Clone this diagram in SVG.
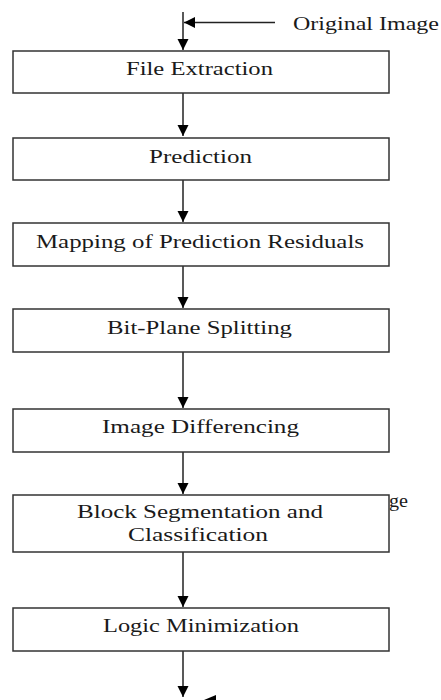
<svg xmlns="http://www.w3.org/2000/svg" width="441" height="700" viewBox="0 0 441 700">
<style>
.box{fill:#fff;stroke:#333;stroke-width:1.5}
.lbl{font-family:"Liberation Serif","Times New Roman",serif;font-size:18px;fill:#1a1a1a;text-anchor:middle}
.note{font-family:"Liberation Serif","Times New Roman",serif;font-size:19px;fill:#1a1a1a}
.conn{stroke:#222;stroke-width:1.5;fill:none;marker-end:url(#ah)}
</style>
<defs>
<marker id="ah" markerWidth="12" markerHeight="12" refX="11" refY="6" orient="auto" markerUnits="userSpaceOnUse">
<path d="M0,0.5 L11,6 L0,11.5 Z" fill="#000"/>
</marker>
</defs>
<rect width="441" height="700" fill="#fff"/>
<text class="note" x="389" y="507" textLength="19" lengthAdjust="spacingAndGlyphs">ge</text>
<g id="connectors">
<line class="conn" x1="183" y1="12" x2="183" y2="50"/>
<line class="conn" x1="275" y1="22.5" x2="184" y2="22.5"/>
<line class="conn" x1="183" y1="93" x2="183" y2="136"/>
<line class="conn" x1="183" y1="180" x2="183" y2="222"/>
<line class="conn" x1="183" y1="266" x2="183" y2="308"/>
<line class="conn" x1="183" y1="352" x2="183" y2="408"/>
<line class="conn" x1="183" y1="452" x2="183" y2="494"/>
<line class="conn" x1="183" y1="552" x2="183" y2="607"/>
<line class="conn" x1="183" y1="651" x2="183" y2="697"/>
<polygon points="204,700 216,695 216,700" fill="#000"/>
</g>
<g id="original-image-label">
<text class="note" x="293" y="30" textLength="146" lengthAdjust="spacingAndGlyphs">Original Image</text>
</g>
<g id="file-extraction">
<rect class="box" x="13" y="51" width="376" height="42"/>
<text class="lbl" x="199.5" y="75" textLength="147" lengthAdjust="spacingAndGlyphs">File Extraction</text>
</g>
<g id="prediction">
<rect class="box" x="13" y="138" width="376" height="42"/>
<text class="lbl" x="200.5" y="163" textLength="103" lengthAdjust="spacingAndGlyphs">Prediction</text>
</g>
<g id="mapping">
<rect class="box" x="13" y="223" width="376" height="43"/>
<text class="lbl" x="200" y="248" textLength="328" lengthAdjust="spacingAndGlyphs">Mapping of Prediction Residuals</text>
</g>
<g id="bit-plane">
<rect class="box" x="13" y="309" width="376" height="43"/>
<text class="lbl" x="199.5" y="334" textLength="185" lengthAdjust="spacingAndGlyphs">Bit-Plane Splitting</text>
</g>
<g id="image-differencing">
<rect class="box" x="13" y="409" width="376" height="43"/>
<text class="lbl" x="200.5" y="433" textLength="197" lengthAdjust="spacingAndGlyphs">Image Differencing</text>
</g>
<g id="block-segmentation">
<rect class="box" x="13" y="495" width="376" height="57"/>
<text class="lbl" x="200" y="518" textLength="246" lengthAdjust="spacingAndGlyphs">Block Segmentation and</text>
<text class="lbl" x="198" y="541" textLength="140" lengthAdjust="spacingAndGlyphs">Classification</text>
</g>
<g id="logic-minimization">
<rect class="box" x="13" y="608" width="376" height="43"/>
<text class="lbl" x="201" y="632" textLength="196" lengthAdjust="spacingAndGlyphs">Logic Minimization</text>
</g>
</svg>
